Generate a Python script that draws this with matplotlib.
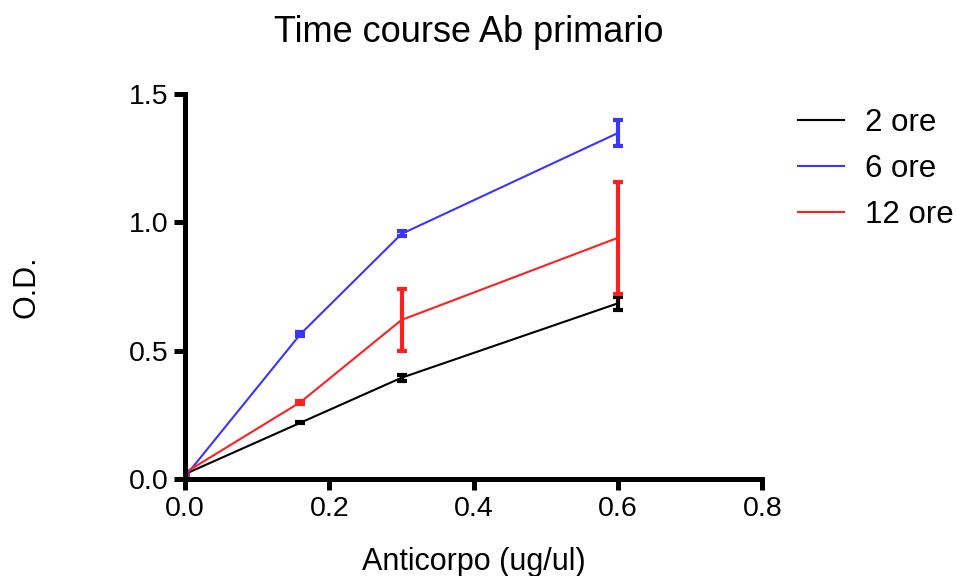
import matplotlib
matplotlib.use("Agg")
import matplotlib.pyplot as plt

plt.rcParams['font.family'] = ['Liberation Sans', 'DejaVu Sans']

# --- Dati ------------------------------------
conc = [0.0, 0.16, 0.3, 0.6]

od_2h = [0.02, 0.22, 0.395, 0.685]
err_2h = [0.0, 0.003, 0.012, 0.025]

od_6h = [0.01, 0.565, 0.955, 1.348]
err_6h = [0.0, 0.008, 0.01, 0.052]

od_12h = [0.025, 0.30, 0.62, 0.94]
err_12h = [0.0, 0.006, 0.122, 0.218]

labels = ["2 ore", "6 ore", "12 ore"]
colors = ["#000000", "#3a35ff", "#ff2020"]

xticks = [0.0, 0.2, 0.4, 0.6, 0.8]
yticks = [0.0, 0.5, 1.0, 1.5]

fig = plt.figure(figsize=(9.56, 5.76), dpi=100)
ax = fig.add_axes([0.1935, 0.168, 0.604, 0.669])

series = [(od_2h, err_2h), (od_6h, err_6h), (od_12h, err_12h)]
for (y, e), lab, c in zip(series, labels, colors):
    ax.errorbar(conc, y, yerr=e, color=c, lw=1.5, elinewidth=3,
                capsize=3.8, capthick=3, label=lab)
    ax.plot(conc[0], y[0], marker="s", ms=5, color=c, ls="none")

ax.set_xlim(0, 0.8)
ax.set_ylim(0, 1.5)
ax.set_xticks(xticks)
ax.set_yticks(yticks)
ax.set_xticklabels([f"{v:.1f}" for v in xticks])
ax.set_yticklabels([f"{v:.1f}" for v in yticks])

for s in ["top", "right"]:
    ax.spines[s].set_visible(False)
for s in ["left", "bottom"]:
    ax.spines[s].set_linewidth(3.6)
ax.tick_params(width=3.6, length=8, labelsize=20.5, direction="out", pad=4)

ax.set_xlabel("Anticorpo (ug/ul)", fontsize=22, va="center")
ax.set_ylabel("O.D.", fontsize=22, va="center")
ax.xaxis.set_label_coords(0.5, -0.215)
ax.yaxis.set_label_coords(-0.274, 0.5)
fig.text(0.49, 0.943, "Time course Ab primario", fontsize=26,
         ha="center", va="center")

handles = [plt.Line2D([], [], color=c, lw=1.5) for c in colors]
fig.legend(handles, labels, loc="upper left", bbox_to_anchor=(0.835, 0.812),
           frameon=False, fontsize=22.5, handlelength=1.45, handletextpad=0.7,
           labelspacing=0.5, borderpad=0, borderaxespad=0)

fig.savefig("out.png", dpi=100)
